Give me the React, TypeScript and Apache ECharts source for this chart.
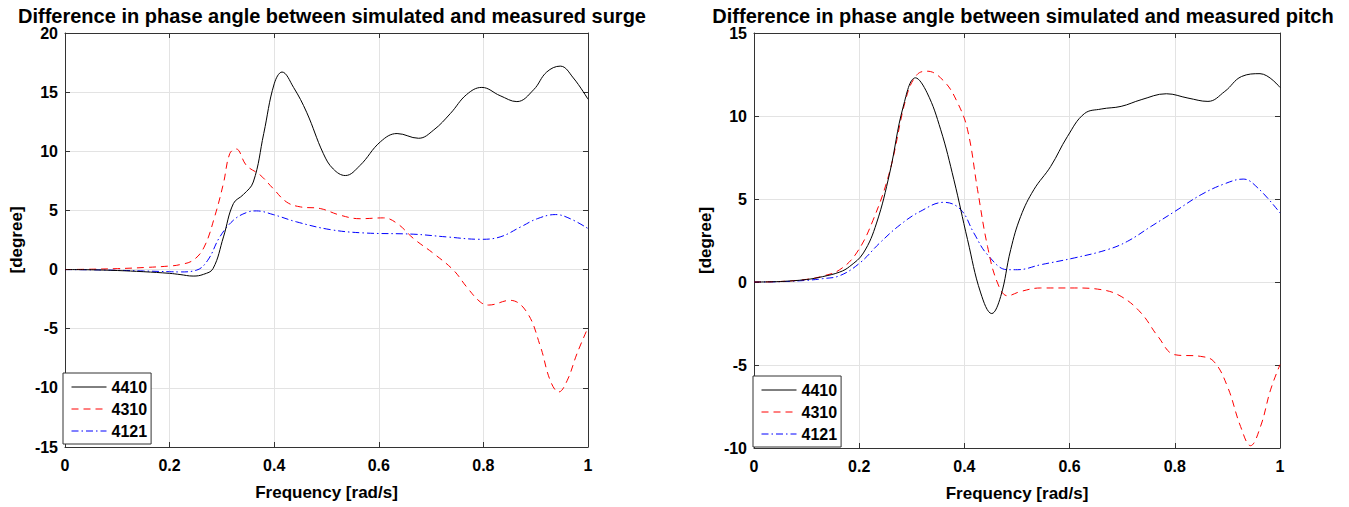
import React, { useEffect, useRef } from "react";
import * as echarts from "echarts";

const titles = [
  "Difference in phase angle between simulated and measured surge",
  "Difference in phase angle between simulated and measured pitch",
];
const seriesNames = ["4410", "4310", "4121"];

// Surge (left)
const surge4410X = [0, 0.05, 0.1, 0.15, 0.2, 0.22, 0.245, 0.265, 0.283, 0.303, 0.322, 0.341, 0.36, 0.38, 0.4, 0.415, 0.437, 0.462, 0.494, 0.513, 0.536, 0.564, 0.603, 0.635, 0.676, 0.705, 0.737, 0.768, 0.797, 0.832, 0.864, 0.896, 0.921, 0.947, 0.972, 1.0];
const surge4410Y = [0, -0.02, -0.08, -0.18, -0.32, -0.42, -0.55, -0.4, 0.08, 2.76, 5.58, 6.34, 7.4, 11.5, 15.7, 16.7, 15.4, 13.3, 9.8, 8.5, 7.95, 8.8, 10.8, 11.5, 11.1, 11.8, 13.2, 14.8, 15.4, 14.7, 14.2, 15.2, 16.7, 17.2, 16.2, 14.4];
const surge4310X = [0, 0.05, 0.1, 0.15, 0.2, 0.22, 0.245, 0.266, 0.286, 0.303, 0.315, 0.327, 0.347, 0.373, 0.398, 0.424, 0.45, 0.488, 0.526, 0.564, 0.609, 0.635, 0.667, 0.705, 0.743, 0.768, 0.794, 0.81, 0.851, 0.883, 0.909, 0.928, 0.944, 0.96, 0.979, 1.0];
const surge4310Y = [0, 0.03, 0.08, 0.17, 0.3, 0.42, 0.79, 1.9, 4.45, 7.3, 9.8, 10.2, 8.8, 8.0, 6.85, 5.7, 5.3, 5.16, 4.6, 4.3, 4.37, 3.9, 2.6, 1.35, -0.06, -1.47, -2.74, -3.0, -2.6, -3.6, -6.5, -9.4, -10.35, -9.4, -7.1, -4.9];
const surge4121X = [0, 0.05, 0.1, 0.15, 0.2, 0.22, 0.251, 0.273, 0.296, 0.322, 0.347, 0.366, 0.398, 0.443, 0.507, 0.57, 0.667, 0.73, 0.794, 0.832, 0.871, 0.903, 0.938, 0.966, 1.0];
const surge4121Y = [0, -0.02, -0.06, -0.12, -0.18, -0.2, -0.06, 0.79, 2.76, 4.17, 4.82, 4.96, 4.65, 4.03, 3.38, 3.1, 2.99, 2.76, 2.56, 2.76, 3.6, 4.3, 4.65, 4.3, 3.47];

// Pitch (right)
const pitch4410X = [0, 0.05, 0.1, 0.13, 0.163, 0.182, 0.208, 0.233, 0.258, 0.284, 0.307, 0.329, 0.355, 0.38, 0.406, 0.431, 0.452, 0.469, 0.488, 0.507, 0.532, 0.564, 0.596, 0.628, 0.66, 0.698, 0.736, 0.784, 0.825, 0.863, 0.895, 0.927, 0.962, 1.0];
const pitch4410Y = [0, 0.03, 0.15, 0.32, 0.6, 0.94, 1.75, 3.55, 6.57, 10.6, 12.3, 11.4, 9.17, 6.16, 2.55, -0.66, -1.9, -0.87, 1.95, 3.95, 5.56, 6.96, 8.77, 10.14, 10.42, 10.58, 10.98, 11.34, 11.08, 10.88, 11.48, 12.38, 12.55, 11.72];
const pitch4310X = [0, 0.05, 0.1, 0.13, 0.163, 0.195, 0.226, 0.258, 0.29, 0.31, 0.329, 0.361, 0.387, 0.406, 0.425, 0.444, 0.463, 0.482, 0.507, 0.545, 0.609, 0.66, 0.698, 0.736, 0.768, 0.8, 0.849, 0.874, 0.9, 0.925, 0.944, 0.963, 0.982, 1.0];
const pitch4310Y = [0, 0.03, 0.16, 0.35, 0.74, 1.75, 3.7, 6.66, 11.18, 12.49, 12.7, 12.1, 10.8, 9.17, 5.56, 2.14, -0.06, -0.83, -0.57, -0.36, -0.36, -0.46, -0.87, -1.87, -3.28, -4.38, -4.48, -4.78, -6.29, -8.7, -9.86, -8.7, -6.5, -4.98];
const pitch4121X = [0, 0.05, 0.1, 0.13, 0.163, 0.201, 0.239, 0.278, 0.316, 0.361, 0.393, 0.418, 0.444, 0.482, 0.501, 0.545, 0.609, 0.672, 0.71, 0.755, 0.8, 0.85, 0.895, 0.93, 0.958, 1.0];
const pitch4121Y = [0, 0.02, 0.1, 0.2, 0.38, 1.14, 2.35, 3.45, 4.25, 4.8, 4.36, 2.95, 1.64, 0.74, 0.74, 1.04, 1.45, 1.95, 2.45, 3.35, 4.25, 5.26, 5.92, 6.2, 5.66, 4.16];

const surgeYRange = [-15, 20];
const pitchYRange = [-10, 15];

const zip = (xs: number[], ys: number[]) => xs.map((x, i) => [x, ys[i]]);

const FONT = "'Liberation Sans', Arial, sans-serif";
const AXIS_COLOR = "#333";
const GRID_COLOR = "#e3e3e3";

const styles = [
  { color: "#000000", type: "solid" as any },
  { color: "#ff0000", type: [7, 5] as any },
  { color: "#0000ff", type: [7, 3, 1.5, 3] as any },
];

export default function App() {
  const ref = useRef<HTMLDivElement>(null);
  useEffect(() => {
    if (!ref.current) return;
    const chart = echarts.init(ref.current, undefined, { renderer: "svg" });

    const grids = [
      { left: 65, top: 33, width: 523, height: 414 },
      { left: 754, top: 33, width: 526, height: 415 },
    ];
    const yRanges = [surgeYRange, pitchYRange];

    const xAxes: any[] = [];
    const yAxes: any[] = [];
    grids.forEach((_, gi) => {
      xAxes.push({
        type: "value",
        gridIndex: gi,
        min: 0,
        max: 1,
        interval: 0.2,
        position: "bottom",
        name: "Frequency [rad/s]",
        nameLocation: "middle",
        nameGap: 37,
        nameTextStyle: { fontFamily: FONT, fontWeight: "bold", fontSize: 17, color: "#000" },
        axisLine: { onZero: false, lineStyle: { color: AXIS_COLOR, width: 1 } },
        axisTick: { inside: true, length: 5, lineStyle: { color: AXIS_COLOR } },
        axisLabel: {
          margin: 10,
          fontFamily: FONT,
          fontWeight: "bold",
          fontSize: 16,
          color: "#000",
          formatter: (v: number) => String(Math.round(v * 10) / 10),
        },
        splitLine: { show: true, lineStyle: { color: GRID_COLOR, width: 1 } },
      });
      xAxes.push({
        type: "value",
        gridIndex: gi,
        min: 0,
        max: 1,
        interval: 0.2,
        position: "top",
        axisLine: { onZero: false, lineStyle: { color: AXIS_COLOR, width: 1 } },
        axisTick: { inside: true, length: 5, lineStyle: { color: AXIS_COLOR } },
        axisLabel: { show: false },
        splitLine: { show: false },
      });
      yAxes.push({
        type: "value",
        gridIndex: gi,
        min: yRanges[gi][0],
        max: yRanges[gi][1],
        interval: 5,
        position: "left",
        name: "[degree]",
        nameLocation: "middle",
        nameGap: 40,
        nameTextStyle: { fontFamily: FONT, fontWeight: "bold", fontSize: 17, color: "#000" },
        axisLine: { onZero: false, lineStyle: { color: AXIS_COLOR, width: 1 } },
        axisTick: { inside: true, length: 5, lineStyle: { color: AXIS_COLOR } },
        axisLabel: { margin: 7, fontFamily: FONT, fontWeight: "bold", fontSize: 16, color: "#000" },
        splitLine: { show: true, lineStyle: { color: GRID_COLOR, width: 1 } },
      });
      yAxes.push({
        type: "value",
        gridIndex: gi,
        min: yRanges[gi][0],
        max: yRanges[gi][1],
        interval: 5,
        position: "right",
        axisLine: { onZero: false, lineStyle: { color: AXIS_COLOR, width: 1 } },
        axisTick: { inside: true, length: 5, lineStyle: { color: AXIS_COLOR } },
        axisLabel: { show: false },
        splitLine: { show: false },
      });
    });

    const dataSets = [
      [zip(surge4410X, surge4410Y), zip(surge4310X, surge4310Y), zip(surge4121X, surge4121Y)],
      [zip(pitch4410X, pitch4410Y), zip(pitch4310X, pitch4310Y), zip(pitch4121X, pitch4121Y)],
    ];

    const series: any[] = [];
    dataSets.forEach((sets, gi) => {
      sets.forEach((data, si) => {
        series.push({
          type: "line",
          name: seriesNames[si],
          xAxisIndex: gi * 2,
          yAxisIndex: gi * 2,
          data,
          smooth: 0.4,
          showSymbol: false,
          symbol: "none",
          lineStyle: { color: styles[si].color, width: 1, type: styles[si].type },
          itemStyle: { color: styles[si].color },
          z: 10 - si,
        });
      });
    });

    const legendBase = {
      orient: "vertical",
      data: seriesNames,
      itemWidth: 35,
      itemHeight: 16,
      itemGap: 6,
      padding: [6, 4, 5, 8],
      borderColor: "#333",
      borderWidth: 1,
      backgroundColor: "#fff",
      borderRadius: 0,
      selectedMode: false,
      itemStyle: { opacity: 0 },
      lineStyle: { width: 1, inactiveWidth: 1 },
      textStyle: { fontFamily: FONT, fontWeight: "bold", fontSize: 16, color: "#000" },
    };

    chart.setOption({
      animation: false,
      backgroundColor: "#fff",
      title: [
        {
          text: titles[0],
          left: 327,
          top: 1,
          textAlign: "center",
          textStyle: { fontFamily: FONT, fontWeight: "bold", fontSize: 20, color: "#000" },
        },
        {
          text: titles[1],
          left: 1018,
          top: 1,
          textAlign: "center",
          textStyle: { fontFamily: FONT, fontWeight: "bold", fontSize: 20, color: "#000" },
        },
      ],
      legend: [
        { ...legendBase, left: 63, top: 373 },
        { ...legendBase, left: 753, top: 376 },
      ],
      grid: grids.map((g) => ({ ...g, containLabel: false })),
      xAxis: xAxes,
      yAxis: yAxes,
      series,
    });

    return () => chart.dispose();
  }, []);

  return (
    <div
      ref={ref}
      style={{ position: "fixed", left: 0, top: 0, width: 1349, height: 507, background: "#fff" }}
    />
  );
}
